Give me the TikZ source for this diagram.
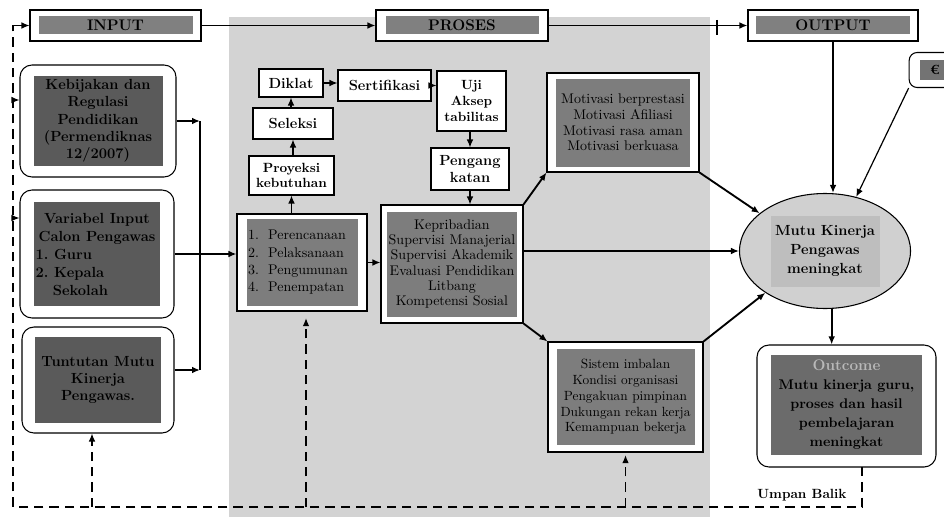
\documentclass[tikz,border=0pt]{standalone}
\usepackage{fontspec}
\usetikzlibrary{arrows.meta,shapes.geometric}
\definecolor{bgfill}{HTML}{D3D3D3}
\definecolor{barfill}{HTML}{808080}
\definecolor{darkfill}{HTML}{5A5A5A}
\definecolor{midfill}{HTML}{7D7D7D}
\definecolor{ovalfill}{HTML}{D0D0D0}
\definecolor{ovalin}{HTML}{BEBEBE}
\begin{document}
\begin{tikzpicture}[x=0.75pt,y=-0.75pt,
        >={Latex[length=6pt,width=5pt]},
        outer/.style={draw,fill=white,line width=0.8pt,inner sep=0pt},
        round/.style={outer,rounded corners=9pt},
        small/.style={draw,fill=white,line width=0.8pt,inner sep=1pt,align=center,font=\bfseries\fontsize{11}{12.75}\selectfont},
        bar/.style={fill=barfill,minimum height=13.5pt,inner sep=0pt,font=\bfseries\fontsize{11.5}{12}\selectfont},
        darkbox/.style={fill=darkfill,inner sep=1pt,align=center,font=\bfseries\fontsize{11}{13}\selectfont},
        midbox/.style={fill=midfill,inner sep=1pt,align=center,font=\fontsize{10}{11.75}\selectfont},
        conn/.style={->,line width=1.4pt},
        thin/.style={->,line width=0.9pt},
        fb/.style={line width=0.9pt,dash pattern=on 7pt off 4.5pt}]
            \clip (0,0) rectangle (944,517);
            \fill[bgfill] (229,17) rectangle (710,517);

            % judul
            \node[outer,minimum width=128.25pt,minimum height=23.25pt] (input) at (115.5,25.5) {};
            \node[bar,minimum width=115.5pt] (input-in) at (input) {INPUT};
            \node[outer,minimum width=129pt,minimum height=23.25pt] (proses) at (462,25.5) {};
            \node[bar,minimum width=114.75pt] (proses-in) at (proses) {PROSES};
            \node[outer,minimum width=127.5pt,minimum height=23.25pt] (output) at (833,25.5) {};
            \node[bar,minimum width=115.5pt] (output-in) at (output) {OUTPUT};

            % input
            \node[round,minimum width=117pt,minimum height=84pt] (kebijakan) at (98,121) {};
            \node[darkbox,minimum width=96.75pt,minimum height=67.5pt] (kebijakan-in) at (kebijakan)
                {Kebijakan dan\\Regulasi\\Pendidikan\\(Permendiknas\\12/2007)};
            \node[round,minimum width=115.5pt,minimum height=96pt] (variabel) at (97,254) {};
            \node[darkbox,minimum width=94.5pt,minimum height=78pt,font=\bfseries\fontsize{11}{13.5}\selectfont] (variabel-in) at (variabel)
                {Variabel Input\\Calon Pengawas\\\makebox[92pt][l]{1.~Guru}\\\makebox[92pt][l]{2.~Kepala}\\\makebox[92pt][l]{\hspace{13pt}Sekolah}};
            \node[round,minimum width=114pt,minimum height=79.5pt] (tuntutan) at (98,380) {};
            \node[darkbox,minimum width=94.5pt,minimum height=64.5pt] (tuntutan-in) at (tuntutan)
                {Tuntutan Mutu\\Kinerja\\Pengawas.};

            % proses
            \node[outer,minimum width=97.5pt,minimum height=72.75pt] (perencanaan) at (302,262.5) {};
            \node[midbox,minimum width=83.25pt,minimum height=65.25pt,text width=81pt,align=left,font=\fontsize{10.5}{13}\selectfont] (perencanaan-in) at (perencanaan)
                {1.~~Perencanaan\\2.~~Pelaksanaan\\3.~~Pengumunan\\4.~~Penempatan};
            \node[small,minimum width=63.75pt,minimum height=29.25pt,font=\bfseries\fontsize{10}{11}\selectfont] (proyeksi) at (291.5,175.5) {Proyeksi\\kebutuhan};
            \node[small,minimum width=60pt,minimum height=23.25pt] (seleksi) at (293,123.5) {Seleksi};
            \node[small,minimum width=48pt,minimum height=21pt] (diklat) at (291,83) {Diklat};
            \node[small,minimum width=69.75pt,minimum height=23.25pt] (sertifikasi) at (384.5,85.5) {Sertifikasi};
            \node[small,minimum width=51.75pt,minimum height=45pt,font=\bfseries\fontsize{10}{12}\selectfont] (uji) at (471.5,101) {Uji\\Aksep\\tabilitas};
            \node[small,minimum width=58.5pt,minimum height=31.5pt] (pengang) at (470,169) {Pengang\\katan};
            \node[outer,minimum width=106.5pt,minimum height=88.5pt] (kepribadian) at (452,264) {};
            \node[midbox,minimum width=93pt,minimum height=78.75pt,font=\fontsize{10.5}{11.5}\selectfont] (kepribadian-in) at (kepribadian)
                {Kepribadian\\Supervisi Manajerial\\Supervisi Akademik\\Evaluasi Pendidikan\\Litbang\\Kompetensi Sosial};
            \node[outer,minimum width=114pt,minimum height=74.25pt] (motivasi) at (623,122.5) {};
            \node[midbox,minimum width=100.5pt,minimum height=66pt,font=\fontsize{10.5}{11.75}\selectfont] (motivasi-in) at (motivasi)
                {Motivasi berprestasi\\Motivasi Afiliasi\\Motivasi rasa aman\\Motivasi berkuasa};
            \node[outer,minimum width=116.25pt,minimum height=82.5pt] (sistem) at (625.5,397) {};
            \node[midbox,minimum width=103.5pt,minimum height=72pt,font=\fontsize{10}{11.8}\selectfont] (sistem-in) at (sistem)
                {Sistem imbalan\\Kondisi organisasi\\Pengakuan pimpinan\\Dukungan rekan kerja\\Kemampuan bekerja};

            % output
            \node[ellipse,draw,fill=ovalfill,line width=0.8pt,minimum width=128.25pt,minimum height=86.25pt,inner sep=0pt] (mutu) at (825,251) {};
            \node[fill=ovalin,minimum width=81.75pt,minimum height=53.25pt,inner sep=0pt,align=center,font=\bfseries\fontsize{11}{14}\selectfont] (mutu-in) at (mutu)
                {Mutu Kinerja\\Pengawas\\meningkat};
            \node[round,minimum width=38pt,minimum height=26.25pt,rounded corners=6pt] (euro) at (934.5,70) {};
            \node[fill=darkfill!85,minimum width=22pt,minimum height=15pt,inner sep=0pt,anchor=west,font=\bfseries\fontsize{10}{12}\selectfont] (euro-in) at (920,70) {€\hspace{8pt}};
            \node[round,minimum width=134.25pt,minimum height=91.5pt] (outcome) at (846.5,406) {};
            \node[fill=darkfill!90,minimum width=113.25pt,minimum height=75pt,inner sep=1pt,align=center,font=\bfseries\fontsize{10.5}{14.25}\selectfont] (outcome-in) at (846.5,405)
                {{\fontsize{11.5}{14.25}\selectfont\color{gray!55}Outcome}\\Mutu kinerja guru,\\proses dan hasil\\pembelajaran\\meningkat};
            \node[font=\bfseries\fontsize{10}{12}\selectfont] (umpan) at (802,495) {Umpan Balik};

            % alur utama
            \draw[conn] (input) -- (proses);
            \draw[conn] (proses) -- (output);
            \draw[line width=1pt] (717,20) -- (717,35);
            \draw[conn] (kebijakan.east) -- (200,121);
            \draw[line width=1.4pt] (200,121) -- (200,370);
            \draw[conn] ([yshift=7.5pt]tuntutan.east) -- (200,370);
            \draw[conn] (variabel.east) -- (perencanaan.west |- variabel.east);
            \draw[thin] (perencanaan.north -| proyeksi.south) -- (proyeksi.south);
            \draw[thin] (proyeksi.north -| seleksi.south) -- (seleksi.south);
            \draw[thin] (seleksi.north -| diklat.south) -- (diklat.south);
            \draw[thin] (diklat.east) -- (diklat.east -| sertifikasi.west);
            \draw[thin] (sertifikasi.east) -- (sertifikasi.east -| uji.west);
            \draw[thin] (uji.south -| pengang.north) -- (pengang.north);
            \draw[thin] (pengang.south) -- (pengang.south |- kepribadian.north);
            \draw[conn] (perencanaan.east) -- (perencanaan.east -| kepribadian.west);
            \draw[conn] (kepribadian.north east) -- (motivasi.south west);
            \draw[conn] (kepribadian.south east) -- (sistem.north west);
            \draw[conn] (kepribadian.east |- mutu.west) -- (mutu.west);
            \draw[conn] (motivasi.south east) -- (mutu.150);
            \draw[conn] (sistem.north east) -- (mutu.215);
            \draw[conn] (output.south) -- (output.south |- mutu.north);
            \draw[thin] (euro.south west) -- (mutu.60);
            \draw[conn] ([xshift=5pt]mutu.south) -- ([xshift=5pt]mutu.south |- outcome.north);

            % umpan balik
            \draw[fb] (862,467) -- (862,507) -- (13,507) -- (13,25.5);
            \draw[thin] (13,25.5) -- (input.west);
            \draw[thin] (13,100) -- (kebijakan.west |- 0,100);
            \draw[thin] (13,218) -- (variabel.west |- 0,218);
            \draw[fb,->] ([xshift=-4.5pt]tuntutan.south |- 0,507) -- ([xshift=-4.5pt]tuntutan.south);
            \draw[fb,->] ([xshift=3pt]perencanaan.south |- 0,507) -- ([xshift=3pt,yshift=-5pt]perencanaan.south);
            \draw[fb,->] (sistem.south |- 0,507) -- ([yshift=-2pt]sistem.south);
        \end{tikzpicture}
\end{document}
